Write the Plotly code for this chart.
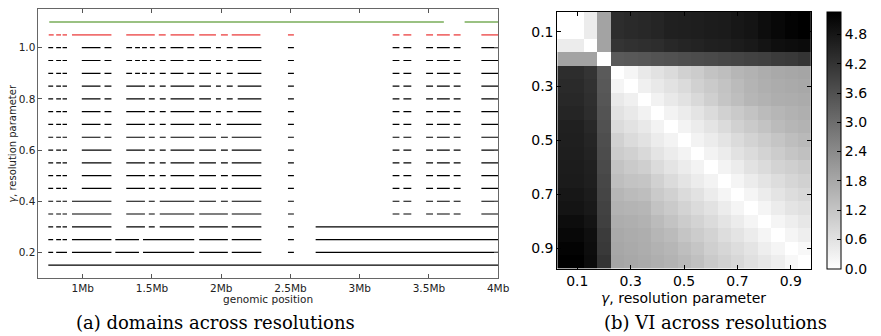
import plotly.graph_objects as go

W, H = 881, 336

# ---------------- Panel (a): domains (start Mb, end Mb) per resolution gamma ----------------
right_hi = [(2.482, 2.525), (3.238, 3.287), (3.316, 3.373), (3.480, 3.530),
            (3.558, 3.651), (3.679, 3.729), (3.879, 4.0)]
right_lo = [(2.482, 2.525), (2.682, 4.0)]
left3 = [(0.751, 0.786), (0.808, 0.843), (0.854, 0.886)]

dom_g110 = [(0.758, 3.608), (3.758, 4.0)]
dom_g105 = [(0.754, 0.790), (0.808, 0.843), (0.854, 0.886), (0.922, 1.207), (1.314, 1.520),
            (1.549, 1.599), (1.634, 1.805), (1.841, 1.962), (1.998, 2.048), (2.076, 2.283)] + right_hi
dom_g100 = left3 + [(0.993, 1.128), (1.157, 1.207), (1.314, 1.356), (1.378, 1.413), (1.428, 1.463),
                    (1.485, 1.520), (1.556, 1.599), (1.634, 1.727), (1.755, 1.805), (1.841, 1.926),
                    (1.962, 1.998), (2.040, 2.083), (2.119, 2.290)] + right_hi
dom_g095 = dom_g100
dom_g090 = dom_g100
dom_g085 = left3 + [(0.993, 1.128), (1.157, 1.207), (1.314, 1.449), (1.477, 1.520), (1.556, 1.599),
                    (1.634, 1.805), (1.841, 1.926), (1.962, 1.998), (2.040, 2.083), (2.119, 2.290)] + right_hi
dom_g080 = dom_g085
dom_g075 = dom_g085
dom_g070 = left3 + [(0.993, 1.128), (1.157, 1.207), (1.314, 1.449), (1.477, 1.520), (1.556, 1.599),
                    (1.634, 1.805), (1.841, 1.926), (1.962, 1.998), (2.040, 2.290)] + right_hi
dom_g065 = left3 + [(0.993, 1.128), (1.157, 1.207), (1.314, 1.449), (1.477, 1.520), (1.556, 1.599),
                    (1.634, 1.805), (1.841, 1.962), (1.998, 2.048), (2.076, 2.290)] + right_hi
dom_g060 = left3 + [(0.993, 1.207), (1.314, 1.449), (1.477, 1.520), (1.556, 1.599),
                    (1.634, 1.805), (1.841, 1.962), (1.998, 2.048), (2.076, 2.290)] + right_hi
dom_g055 = dom_g060
dom_g050 = dom_g060
dom_g045 = dom_g060
dom_g040 = left3 + [(0.922, 1.207), (1.314, 1.449), (1.477, 1.520), (1.556, 1.805),
                    (1.841, 1.962), (1.998, 2.048), (2.076, 2.290)] + right_hi
dom_g035 = left3 + [(0.922, 1.207), (1.314, 1.449), (1.477, 1.520), (1.556, 1.805),
                    (1.841, 2.048), (2.076, 2.290)] + right_hi
dom_g030 = left3 + [(0.922, 1.207), (1.314, 1.449), (1.477, 1.520), (1.556, 1.805),
                    (1.841, 2.048), (2.076, 2.290)] + right_lo
dom_g025 = left3 + [(0.922, 1.207), (1.235, 1.406), (1.435, 1.805), (1.841, 2.048),
                    (2.076, 2.290)] + right_lo
dom_g020 = [(0.751, 0.786), (0.808, 0.886), (0.922, 1.207), (1.235, 1.406), (1.435, 1.805),
            (1.841, 2.048), (2.076, 2.290)] + right_lo
dom_g015 = [(0.751, 4.0)]

level_gammas = [1.10, 1.05, 1.00, 0.95, 0.90, 0.85, 0.80, 0.75, 0.70, 0.65, 0.60,
                0.55, 0.50, 0.45, 0.40, 0.35, 0.30, 0.25, 0.20, 0.15]
level_domains = [dom_g110, dom_g105, dom_g100, dom_g095, dom_g090, dom_g085, dom_g080,
                 dom_g075, dom_g070, dom_g065, dom_g060, dom_g055, dom_g050, dom_g045,
                 dom_g040, dom_g035, dom_g030, dom_g025, dom_g020, dom_g015]

xtick_vals = [1.0, 1.5, 2.0, 2.5, 3.0, 3.5, 4.0]
xtick_text = ['1Mb', '1.5Mb', '2Mb', '2.5Mb', '3Mb', '3.5Mb', '4Mb']
ytick_vals = [0.2, 0.4, 0.6, 0.8, 1.0]
ytick_text = ['0.2', '0.4', '0.6', '0.8', '1.0']

# ---------------- Panel (b): VI across resolutions ----------------
gammas = [0.05, 0.10, 0.15, 0.20, 0.25, 0.30, 0.35, 0.40, 0.45, 0.50,
          0.55, 0.60, 0.65, 0.70, 0.75, 0.80, 0.85, 0.90, 0.95]
# VI of the coarse partitions (gamma 0.05/0.10, 0.15, 0.20) against gamma 0.25..0.95
vi_g010_vs_fine = [4.35, 4.40, 4.45, 4.50, 4.60, 4.62, 4.65, 4.70, 4.72, 4.80, 4.85, 5.00, 5.10, 5.20, 5.27]
vi_g015_vs_fine = [4.20, 4.25, 4.30, 4.35, 4.45, 4.50, 4.55, 4.60, 4.62, 4.70, 4.75, 4.85, 4.95, 5.00, 5.05]
vi_g020_vs_fine = [3.40, 3.45, 3.50, 3.55, 3.60, 3.65, 3.70, 3.75, 3.80, 3.85, 3.90, 3.95, 4.05, 4.10, 4.20]
vi_coarse = [  # gamma 0.05, 0.10, 0.15, 0.20 among themselves
    [0.00, 0.00, 0.40, 1.90],
    [0.00, 0.00, 0.40, 1.90],
    [0.40, 0.40, 0.00, 1.90],
    [1.90, 1.90, 1.90, 0.00],
]
vi_fine = [  # gamma 0.25..0.95 among themselves
    [0.00, 0.20, 0.45, 0.60, 0.75, 0.95, 1.05, 1.25, 1.35, 1.50, 1.60, 1.70, 1.78, 1.82, 1.85],
    [0.20, 0.00, 0.30, 0.45, 0.60, 0.75, 0.95, 1.10, 1.25, 1.40, 1.55, 1.65, 1.72, 1.76, 1.80],
    [0.45, 0.30, 0.00, 0.27, 0.45, 0.60, 0.78, 1.00, 1.20, 1.35, 1.50, 1.60, 1.67, 1.70, 1.74],
    [0.60, 0.45, 0.27, 0.00, 0.25, 0.40, 0.55, 0.75, 0.95, 1.10, 1.25, 1.40, 1.50, 1.60, 1.65],
    [0.75, 0.60, 0.45, 0.25, 0.00, 0.25, 0.40, 0.55, 0.75, 0.95, 1.10, 1.25, 1.40, 1.50, 1.57],
    [0.95, 0.75, 0.60, 0.40, 0.25, 0.00, 0.25, 0.40, 0.55, 0.75, 0.90, 1.05, 1.20, 1.35, 1.45],
    [1.05, 0.95, 0.78, 0.55, 0.40, 0.25, 0.00, 0.25, 0.40, 0.60, 0.75, 0.90, 1.05, 1.20, 1.30],
    [1.25, 1.10, 1.00, 0.75, 0.55, 0.40, 0.25, 0.00, 0.25, 0.40, 0.60, 0.75, 0.90, 1.00, 1.10],
    [1.35, 1.25, 1.20, 0.95, 0.75, 0.55, 0.40, 0.25, 0.00, 0.20, 0.40, 0.55, 0.70, 0.85, 0.95],
    [1.50, 1.40, 1.35, 1.10, 0.95, 0.75, 0.60, 0.40, 0.20, 0.00, 0.20, 0.40, 0.55, 0.70, 0.80],
    [1.60, 1.55, 1.50, 1.25, 1.10, 0.90, 0.75, 0.60, 0.40, 0.20, 0.00, 0.20, 0.40, 0.55, 0.65],
    [1.70, 1.65, 1.60, 1.40, 1.25, 1.05, 0.90, 0.75, 0.55, 0.40, 0.20, 0.00, 0.20, 0.35, 0.50],
    [1.78, 1.72, 1.67, 1.50, 1.40, 1.20, 1.05, 0.90, 0.70, 0.55, 0.40, 0.20, 0.00, 0.20, 0.35],
    [1.82, 1.76, 1.70, 1.60, 1.50, 1.35, 1.20, 1.00, 0.85, 0.70, 0.55, 0.35, 0.20, 0.00, 0.15],
    [1.85, 1.80, 1.74, 1.65, 1.57, 1.45, 1.30, 1.10, 0.95, 0.80, 0.65, 0.50, 0.35, 0.15, 0.00],
]
vi_max = 5.27
hm_tick_vals = [0.1, 0.3, 0.5, 0.7, 0.9]
hm_tick_text = ['0.1', '0.3', '0.5', '0.7', '0.9']
cb_tick_vals = [0.0, 0.6, 1.2, 1.8, 2.4, 3.0, 3.6, 4.2, 4.8]
cb_tick_text = ['0.0', '0.6', '1.2', '1.8', '2.4', '3.0', '3.6', '4.2', '4.8']

# assemble full VI matrix from the pieces
coarse_vs_fine = [vi_g010_vs_fine, vi_g010_vs_fine, vi_g015_vs_fine, vi_g020_vs_fine]
vi = []
for i in range(4):
    vi.append(vi_coarse[i] + coarse_vs_fine[i])
for k in range(len(vi_fine)):
    vi.append([coarse_vs_fine[c][k] for c in range(4)] + vi_fine[k])

# ---------------- figure ----------------
fig = go.Figure()

for lvl, doms in zip(level_gammas, level_domains):
    if abs(lvl - 1.10) < 1e-9:
        color, width = '#78ad58', 1.5
    elif abs(lvl - 1.05) < 1e-9:
        color, width = '#f07070', 1.8
    else:
        color, width = '#000000', 1.2
    xs, ys = [], []
    for s, e in doms:
        xs += [s, e, None]
        ys += [lvl, lvl, None]
    fig.add_trace(go.Scatter(x=xs, y=ys, mode='lines', line=dict(color=color, width=width),
                             xaxis='x', yaxis='y', showlegend=False, hoverinfo='skip'))

ax_top = 11.7
ax_bot = 268.5
fig.add_trace(go.Heatmap(
    x=gammas, y=gammas, z=vi, xaxis='x2', yaxis='y2',
    colorscale=[[0, '#ffffff'], [1, '#000000']], zmin=0, zmax=vi_max,
    colorbar=dict(
        x=838 / W, xanchor='left', thickness=14, thicknessmode='pixels',
        len=(ax_bot - ax_top) / H, lenmode='fraction',
        y=1 - (ax_top + ax_bot) / 2 / H, yanchor='middle',
        xpad=0, ypad=0, outlinewidth=1, outlinecolor='#000000',
        tickvals=cb_tick_vals, ticktext=cb_tick_text, ticks='inside', ticklen=4,
        tickcolor='#000000', tickfont=dict(family='DejaVu Sans', size=14, color='#000000'),
    ),
    hoverinfo='skip',
))

left_font = dict(family='DejaVu Sans', size=10.5, color='#222222')
right_font = dict(family='DejaVu Sans', size=14, color='#000000')

fig.update_layout(
    width=W, height=H, margin=dict(l=0, r=0, t=0, b=0),
    paper_bgcolor='white', plot_bgcolor='white',
    xaxis=dict(domain=[39 / W, 505 / W], range=[0.68, 4.0], anchor='y',
               tickvals=xtick_vals, ticktext=xtick_text, ticks='inside', ticklen=4,
               tickcolor='#555555', mirror='ticks', showline=True, linecolor='#666666',
               linewidth=1, showgrid=False, zeroline=False, tickfont=left_font),
    yaxis=dict(domain=[1 - 278 / H, 1 - 9.3 / H], range=[0.1, 1.15], anchor='x',
               tickvals=ytick_vals, ticktext=ytick_text, ticks='inside', ticklen=4,
               tickcolor='#555555', mirror='ticks', showline=True, linecolor='#666666',
               linewidth=1, showgrid=False, zeroline=False, tickfont=left_font),
    xaxis2=dict(domain=[565 / W, 822 / W], range=[0.025, 0.975], anchor='y2',
                tickvals=hm_tick_vals, ticktext=hm_tick_text, ticks='inside', ticklen=4,
                tickcolor='#000000', mirror='ticks', showline=True, linecolor='#000000',
                linewidth=1, showgrid=False, zeroline=False, tickfont=right_font),
    yaxis2=dict(domain=[1 - ax_bot / H, 1 - ax_top / H], range=[0.975, 0.025], anchor='x2',
                tickvals=hm_tick_vals, ticktext=hm_tick_text, ticks='inside', ticklen=4,
                tickcolor='#000000', mirror='ticks', showline=True, linecolor='#000000',
                linewidth=1, showgrid=False, zeroline=False, tickfont=right_font),
)

annotations = [
    dict(text='<i>γ</i>, resolution parameter', x=12 / W, y=1 - 143 / H, xref='paper', yref='paper',
         textangle=-90, showarrow=False, font=dict(family='DejaVu Sans', size=10, color='#222222'),
         xanchor='center', yanchor='middle'),
    dict(text='genomic position', x=272 / W, y=1 - 299 / H, xref='paper', yref='paper',
         showarrow=False, font=dict(family='DejaVu Sans', size=10.5, color='#222222'),
         xanchor='center', yanchor='middle'),
    dict(text='<i>γ</i>, resolution parameter', x=693 / W, y=1 - 298 / H, xref='paper', yref='paper',
         showarrow=False, font=dict(family='DejaVu Sans', size=14, color='#000000'),
         xanchor='center', yanchor='middle'),
    dict(text='(a) domains across resolutions', x=218 / W, y=1 - 322 / H, xref='paper', yref='paper',
         showarrow=False, font=dict(family='DejaVu Serif', size=18, color='#000000'),
         xanchor='center', yanchor='middle'),
    dict(text='(b) VI across resolutions', x=725 / W, y=1 - 322 / H, xref='paper', yref='paper',
         showarrow=False, font=dict(family='DejaVu Serif', size=18, color='#000000'),
         xanchor='center', yanchor='middle'),
]
fig.update_layout(annotations=annotations)

fig.write_html('out.html')
